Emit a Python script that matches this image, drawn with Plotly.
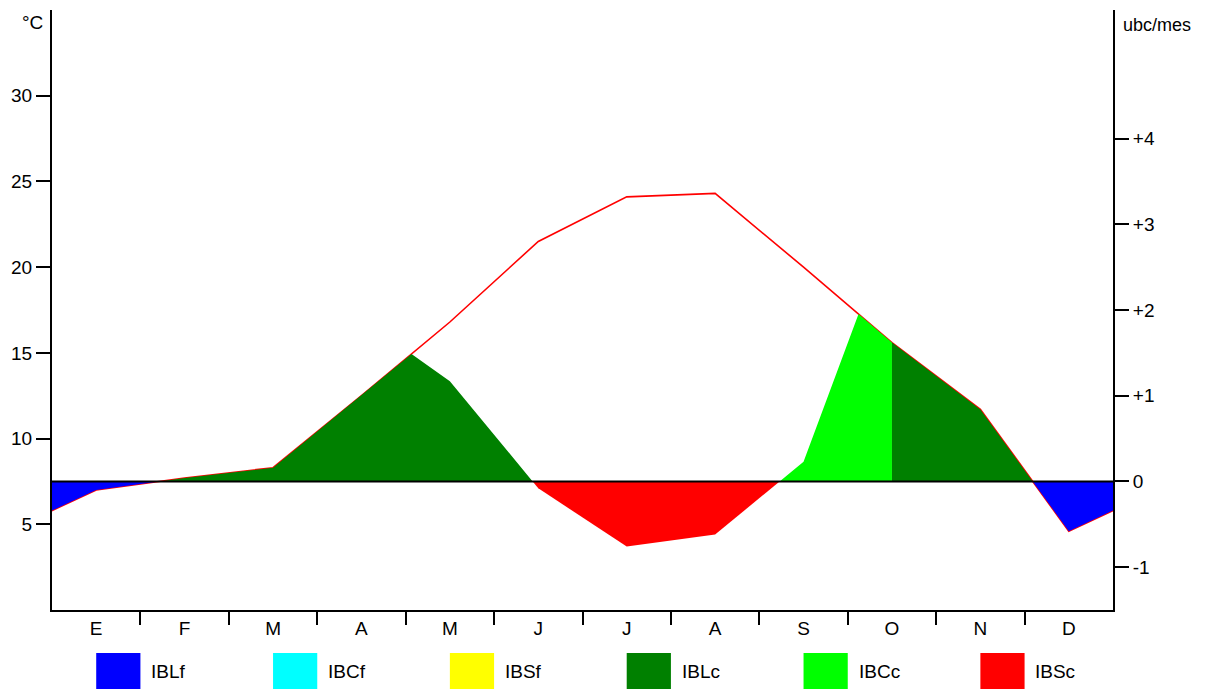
import numpy as np
import plotly.graph_objects as go

# ---------------- data ----------------
months = ["E", "F", "M", "A", "M", "J", "J", "A", "S", "O", "N", "D"]
temp_c = [7.0, 7.7, 8.3, 12.5, 16.8, 21.5, 24.1, 24.3, 20.0, 15.6, 11.7, 4.6]

# water-limited bioclimatic intensity (ubc/mes), defined Apr..Oct (month indices)
hydric_month_idx = [3, 4, 5, 6, 7, 8, 9]
hydric_ubc = [1.9, 1.17, -0.08, -0.76, -0.62, 0.23, 3.0]

# conditioned (IBCc) period: from Aug centre to Oct centre (month indices)
ibcc_from_idx, ibcc_to_idx = 7, 9

base_temp = 7.5      # °C equal to 0 ubc
deg_per_ubc = 5.0    # °C per ubc

legend_names = ["IBLf", "IBCf", "IBSf", "IBLc", "IBCc", "IBSc"]
legend_colors = ["#0000FF", "#00FFFF", "#FFFF00", "#008000", "#00FF00", "#FF0000"]
color_of = dict(zip(legend_names, legend_colors))

left_ticks = [5, 10, 15, 20, 25, 30]
right_ticks = [-1, 0, 1, 2, 3, 4]
right_ticktext = ["-1", "0", "+1", "+2", "+3", "+4"]

# ---------------- curves ----------------
xm = np.arange(12) + 0.5
xt = np.concatenate([[xm[0] - 1], xm, [xm[-1] + 1]])
Tt = np.array([temp_c[-1]] + temp_c + [temp_c[0]])
xh = np.array(hydric_month_idx) + 0.5
wh = np.array(hydric_ubc)


def t_ubc(x):
    return (np.interp(x, xt, Tt) - base_temp) / deg_per_ubc


def w_ubc(x):
    if xh[0] - 1e-9 <= x <= xh[-1] + 1e-9:
        return float(np.interp(x, xh, wh))
    return np.inf


def f_ubc(x):
    return min(t_ubc(x), w_ubc(x))


pts = sorted(set([0.0, 12.0] + list(xm)))
extra = []
for a, b in zip(pts[:-1], pts[1:]):
    da, db = t_ubc(a) - w_ubc(a), t_ubc(b) - w_ubc(b)
    if np.isfinite(da) and np.isfinite(db) and da * db < 0:
        extra.append(a + (b - a) * da / (da - db))
pts = sorted(pts + extra)
extra = []
for a, b in zip(pts[:-1], pts[1:]):
    fa, fb = f_ubc(a), f_ubc(b)
    if fa * fb < 0:
        extra.append(a + (b - a) * fa / (fa - fb))
pts = sorted(pts + extra)


def classify(m):
    fm = f_ubc(m)
    water = w_ubc(m) < t_ubc(m)
    if fm < 0:
        return "IBSc" if water else "IBLf"
    if xm[ibcc_from_idx] <= m <= xm[ibcc_to_idx]:
        return "IBCc"
    return "IBLc"


segments = []
for a, b in zip(pts[:-1], pts[1:]):
    c = classify(0.5 * (a + b))
    if segments and segments[-1][0] == c:
        segments[-1][1].append(b)
    else:
        segments.append([c, [a, b]])

fig = go.Figure()
for cls, xs in segments:
    fig.add_trace(go.Scatter(
        x=xs, y=[f_ubc(x) for x in xs], yaxis="y2", mode="lines",
        line=dict(width=0, color=color_of[cls]), fill="tozeroy",
        fillcolor=color_of[cls], showlegend=False, hoverinfo="skip"))

# temperature line
fig.add_trace(go.Scatter(
    x=xt, y=Tt, mode="lines", line=dict(color="#FF0000", width=1.6),
    showlegend=False, hoverinfo="skip"))

font = dict(family="Arial, Liberation Sans, sans-serif", size=19, color="#000000")

fig.update_layout(
    width=1220, height=689,
    margin=dict(l=52, r=107, t=10, b=79),
    paper_bgcolor="white", plot_bgcolor="white",
    font=font,
    xaxis=dict(range=[0, 12], tickmode="array", tickvals=list(xm), ticktext=months,
               ticks="",
               showline=True, linecolor="#000000", linewidth=2, showgrid=False,
               zeroline=False, fixedrange=True,
               minor=dict(tickmode="array", tickvals=list(range(1, 12)),
                          ticks="outside", ticklen=13, tickwidth=2, tickcolor="#000000")),
    yaxis=dict(range=[0, 35], tickmode="array", tickvals=left_ticks,
               ticks="outside", ticklen=14, tickwidth=2, tickcolor="#000000",
               showline=True, linecolor="#000000", linewidth=2, showgrid=False,
               zeroline=False),
    yaxis2=dict(range=[-1.5, 5.5], overlaying="y", side="right", tickmode="array",
                tickvals=right_ticks, ticktext=right_ticktext,
                ticks="outside", ticklen=14, tickwidth=2, tickcolor="#000000",
                showline=True, linecolor="#000000", linewidth=2, showgrid=False,
                zeroline=False),
)

# zero (0 ubc) reference line on top
fig.add_shape(type="line", xref="paper", yref="y2", x0=0, x1=1, y0=0, y1=0,
              line=dict(color="#000000", width=2), layer="above")

# axis unit labels
fig.add_annotation(text="°C", xref="paper", yref="paper", x=-0.007, y=0.98,
                   xanchor="right", yanchor="middle", showarrow=False, font=font)
fig.add_annotation(text="ubc/mes", xref="paper", yref="paper", x=1.008, y=0.975,
                   xanchor="left", yanchor="middle", showarrow=False,
                   font=dict(family=font["family"], size=18, color="#000000"))

# custom legend placed under alternate months
for i, (name, col) in enumerate(zip(legend_names, legend_colors)):
    xc = xm[2 * i]
    fig.add_shape(type="rect", xref="x", yref="paper", x0=xc, x1=xc + 0.5,
                  y0=-0.0717, y1=-0.14, fillcolor=col, line=dict(width=0),
                  layer="above")
    fig.add_annotation(text=name, xref="x", yref="paper", x=xc + 0.6, y=-0.103,
                       xanchor="left", yanchor="middle", showarrow=False, font=font)

fig.write_html("out.html")
